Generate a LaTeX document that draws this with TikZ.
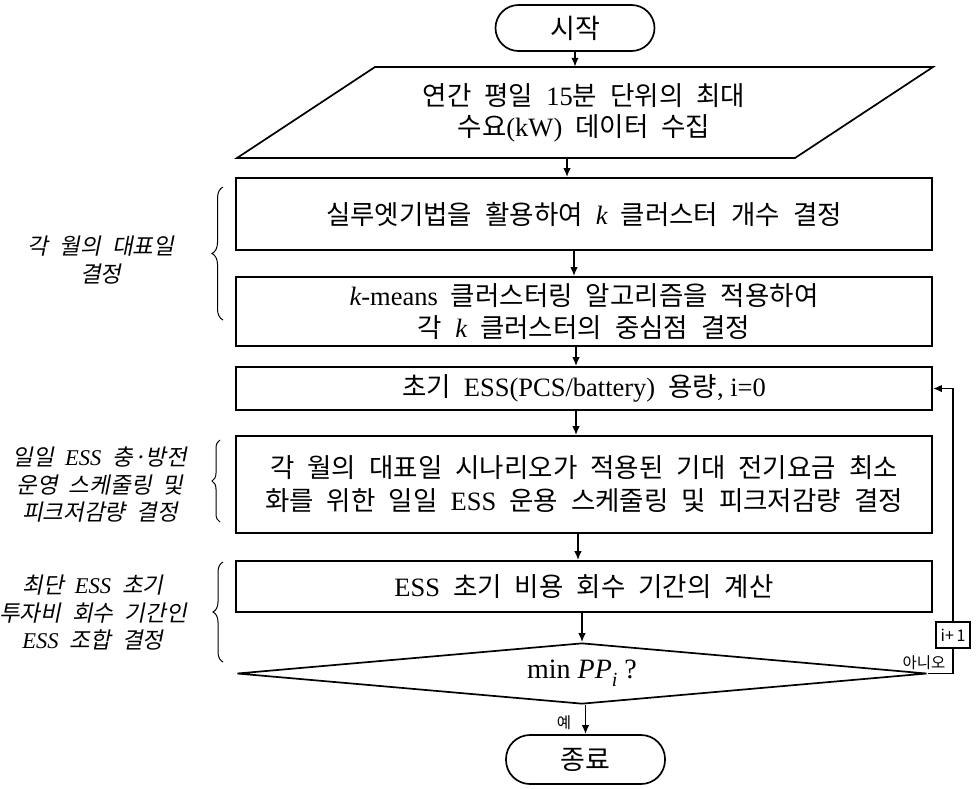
\documentclass[tikz,border=0pt]{standalone}
\usepackage{fontspec}
\setmainfont{Liberation Serif}
\newfontfamily\kr{Noto Sans CJK KR}[WordSpace=2.2]
\newfontfamily\krit{Noto Sans CJK KR}[FakeSlant=0.2,WordSpace=2.2]
\usetikzlibrary{arrows.meta,shapes.geometric,decorations.pathreplacing}
\newcommand\LT[1]{{\rmfamily #1}}
\begin{document}
\begin{tikzpicture}[x=1pt,y=-1pt,
  lw/.style={line width=1.7pt},
  boxn/.style={draw, lw, minimum width=696pt, align=center, inner sep=0pt,
    font=\kr\fontsize{26.5}{32}\selectfont},
  term/.style={draw, lw, rounded corners=23pt, minimum width=159pt,
    minimum height=46pt, inner sep=0pt, font=\kr\fontsize{27}{30}\selectfont},
  lab/.style={align=center, inner sep=0pt, font=\krit\fontsize{22.5}{27.5}\selectfont},
  arr/.style={lw, -{Latex[length=9pt,width=7.5pt]}},
  brc/.style={line width=1pt, decorate, decoration={brace, amplitude=#1}},
  small/.style={inner sep=0pt, font=\kr\fontsize{15.5}{15.5}\selectfont}]
\useasboundingbox (0,0) rectangle (976,788);
% nodes
\node[term] (start) at (575,28) {시작};
\draw[lw] (237,158) -- (375,67) -- (933,67) -- (795,158) -- cycle;
\node[align=center, inner sep=0pt, minimum height=91pt, minimum width=400pt,
  font=\kr\fontsize{26.5}{31}\selectfont] (para) at (584,112.5)
  {연간 평일 \LT{15}분 단위의 최대\\수요\LT{(kW)} 데이터 수집};
\node[boxn, minimum height=72pt] (box1) at (584,214)
  {실루엣기법을 활용하여 \LT{\itshape k} 클러스터 개수 결정};
\node[boxn, minimum height=69pt] (box2) at (584,311.5)
  {\LT{\itshape k}\LT{-means} 클러스터링 알고리즘을 적용하여\\각 \LT{\itshape k} 클러스터의 중심점 결정};
\node[boxn, minimum height=43pt] (box3) at (584,388.5)
  {초기 \LT{ESS(PCS/battery)} 용량\LT{, i=0}};
\node[boxn, minimum height=97pt, font=\kr\fontsize{26.5}{33}\selectfont] (box4) at (584,484.5)
  {각 월의 대표일 시나리오가 적용된 기대 전기요금 최소\\화를 위한 일일 \LT{ESS} 운용 스케줄링 및 피크저감량 결정};
\node[boxn, minimum height=51pt] (box5) at (584,586.5)
  {\LT{ESS} 초기 비용 회수 기간의 계산};
\node[diamond, draw, lw, aspect=11, minimum width=690pt, minimum height=61pt,
  inner sep=0pt, font=\rmfamily\fontsize{28}{28}\selectfont] (dec) at (582,673.5)
  {min {\itshape PP}\raisebox{-0.28em}{\fontsize{20}{20}\selectfont\itshape i} ?};
\node[term, minimum height=49pt, rounded corners=24pt] (end) at (585.5,759.5) {종료};
\node[draw, line width=1.5pt, minimum width=34pt, minimum height=26pt, inner sep=0pt,
  font=\kr\fontsize{16}{16}\selectfont] (inc) at (953,635) {i+\,1};
\node[small, anchor=south] (no) at (924,670) {아니오};
\node[small] (yes) at (564,723) {예};
% connectors
\draw[arr] (start.south) -- (start.south |- para.north);
\draw[arr] ([xshift=-17pt]para.south) -- ([xshift=-17pt]para.south |- box1.north);
\draw[arr] ([xshift=-10pt]box1.south) -- ([xshift=-10pt]box2.north);
\draw[arr] ([xshift=-8pt]box2.south) -- ([xshift=-8pt]box3.north);
\draw[arr] ([xshift=-8pt]box3.south) -- ([xshift=-8pt]box4.north);
\draw[arr] ([xshift=-6pt]box4.south) -- ([xshift=-6pt]box5.north);
\draw[arr] (box5.south -| dec.north) -- (dec.north);
\draw[arr] (dec.south -| end.north) -- (end.north);
\draw[lw] (dec.east) -| (inc.south);
\draw[arr] (inc.north) |- (box3.east);
% braces and labels
\draw[brc=11pt] (223,320) -- (223,187);
\draw[brc=8pt] (220,522) -- (220,440);
\draw[brc=10pt] (223,662) -- (223,562);
\node[lab] (l1) at (101,260) {각 월의 대표일\\결정};
\node[lab] (l2) at (100,485) {일일 \LT{\itshape ESS} 충·방전\\운영 스케줄링 및\\피크저감량 결정};
\node[lab] (l3) at (93,613) {최단 \LT{\itshape ESS} 초기\\투자비 회수 기간인\\\LT{\itshape ESS} 조합 결정};
\end{tikzpicture}
\end{document}
